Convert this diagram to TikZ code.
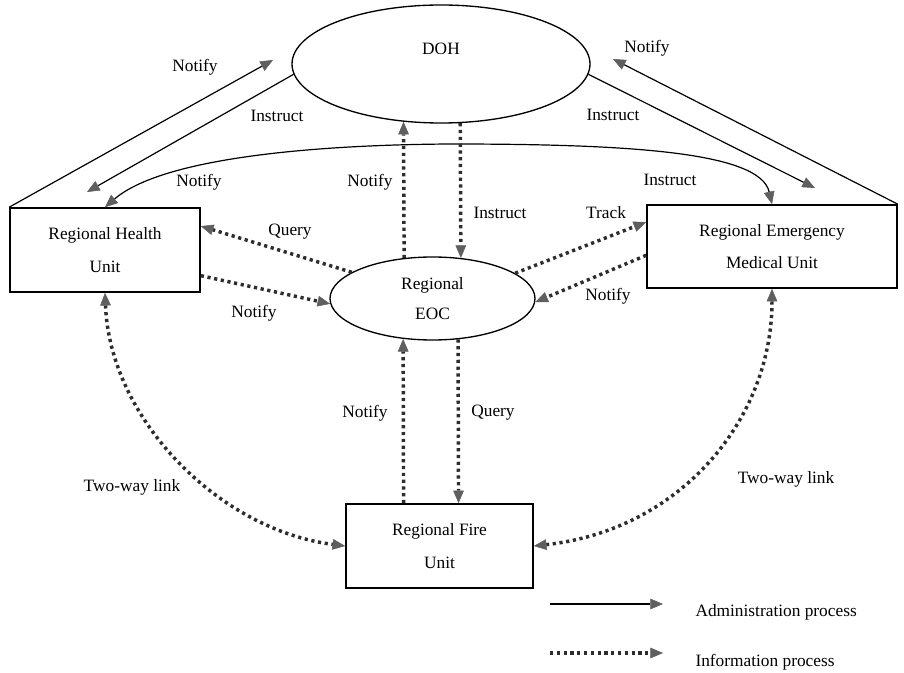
\documentclass[tikz,border=0pt]{standalone}
\usepackage{fontspec}
\setmainfont{Liberation Serif}
\usetikzlibrary{arrows.meta,shapes.geometric}

\definecolor{tipgray}{RGB}{95,95,95}
\definecolor{dotgray}{RGB}{45,45,45}

\tikzset{every picture/.style={line width=0.75pt}}
\tikzset{
  >={Triangle[length=9.5pt,width=8pt,line width=0.4pt,color=tipgray]},
  admin/.style={draw=black,line width=0.9pt},
  info/.style={draw=dotgray,line width=2.6pt,dash pattern=on 2.4pt off 2.7pt},
  unitbox/.style={draw,line width=1.2pt,align=center,font=\fontsize{13}{24.5}\selectfont},
  hub/.style={draw,ellipse,line width=1pt,align=center,inner sep=0pt,font=\fontsize{13}{23}\selectfont},
  lbl/.style={inner sep=0.75pt,font=\fontsize{13}{15}\selectfont}
}

\begin{document}
\begin{tikzpicture}[x=0.75pt,y=0.75pt,yscale=-1,xscale=1]
%set diagram left start at 0, and has height of 673
\useasboundingbox (0,0) rectangle (904,673);

%Shape: Ellipse
\node[hub,minimum width=223.5pt,minimum height=88.5pt] (doh) at (441,64) {};
%Shape: Ellipse
\node[hub,minimum width=153.75pt,minimum height=62.25pt] (eoc) at (432.5,298.5) {Regional\\EOC};
%Shape: Rectangle
\node[unitbox,minimum width=142.5pt,minimum height=63pt] (rhu) at (105,250) {Regional Health\\Unit};
%Shape: Rectangle
\node[unitbox,minimum width=187.5pt,minimum height=62.25pt] (rmu) at (772,246.5) {Regional Emergency\\Medical Unit};
%Shape: Rectangle
\node[unitbox,minimum width=140.25pt,minimum height=63pt] (fire) at (439.5,546) {Regional Fire\\Unit};

% free ends
\coordinate (dohnotifyl) at (273,60);
\coordinate (rhuinstruct) at (87,192);
\coordinate (dohnotifyr) at (613,59);
\coordinate (rmuinstruct) at (815,188);
\coordinate (keyadminA) at (550,604);
\coordinate (keyadminB) at (663,604);
\coordinate (keyinfoA) at (550,653);
\coordinate (keyinfoB) at (663,653);

%Straight Lines
\draw[admin,->] (rhu.north west) -- (dohnotifyl);
%Straight Lines
\draw[admin,->] (doh.184) -- (rhuinstruct);
%Straight Lines
\draw[admin,->] (rmu.north east) -- (dohnotifyr);
%Straight Lines
\draw[admin,->] (doh.356) -- (rmuinstruct);
%Curve Lines
\draw[admin,<->] (rhu.north) .. controls (160,160) and (300,145) .. (450,144) .. controls (630,144) and (760,152) .. (rmu.north);

%Dotted Lines
\draw[info,->] (eoc.125.6) -- (doh.237.1);
\draw[info,->] (doh.288) -- (eoc.55.5);
\draw[info,->] (eoc.162.8) -- (rhu.14.7);
\draw[info,->] (rhu.345.3) -- (eoc.183.6);
\draw[info,->] (eoc.17.8) -- (rmu.169.4);
\draw[info,->] (rmu.184.3) -- (eoc.358);
\draw[info,->] (fire.130.2) -- (eoc.234.4);
\draw[info,->] (eoc.302.4) -- (fire.66.2);
%Dotted Curves
\draw[info,<->] (rhu.south) .. controls (110,420) and (220,530) .. (fire.west);
\draw[info,<->] (rmu.south) .. controls (772,420) and (680,530) .. (fire.east);

%Legend
\draw[admin,->] (keyadminA) -- (keyadminB);
\draw[info,->] (keyinfoA) -- (keyinfoB);

% Text Node
\node[lbl] (dohtext) at (441,49) {DOH};
% Text Node
\node[lbl] (t1) at (195,67) {Notify};
% Text Node
\node[lbl] (t2) at (277,116) {Instruct};
% Text Node
\node[lbl] (t3) at (199,182) {Notify};
% Text Node
\node[lbl] (t4) at (370,182) {Notify};
% Text Node
\node[lbl] (t5) at (500,213) {Instruct};
% Text Node
\node[lbl] (t6) at (647,48) {Notify};
% Text Node
\node[lbl] (t7) at (613,115) {Instruct};
% Text Node
\node[lbl] (t8) at (670,180) {Instruct};
% Text Node
\node[lbl] (t9) at (606,213) {Track};
% Text Node
\node[lbl] (t10) at (290,232) {Query};
% Text Node
\node[lbl] (t11) at (254,313) {Notify};
% Text Node
\node[lbl] (t12) at (608,296) {Notify};
% Text Node
\node[lbl] (t13) at (365,413) {Notify};
% Text Node
\node[lbl] (t14) at (493,413) {Query};
% Text Node
\node[lbl] (t15) at (132,487) {Two-way link};
% Text Node
\node[lbl] (t16) at (786,479) {Two-way link};
% Text Node
\node[lbl,anchor=west] (t17) at (694,612) {Administration process};
% Text Node
\node[lbl,anchor=west] (t18) at (694,662) {Information process};

\end{tikzpicture}
\end{document}
